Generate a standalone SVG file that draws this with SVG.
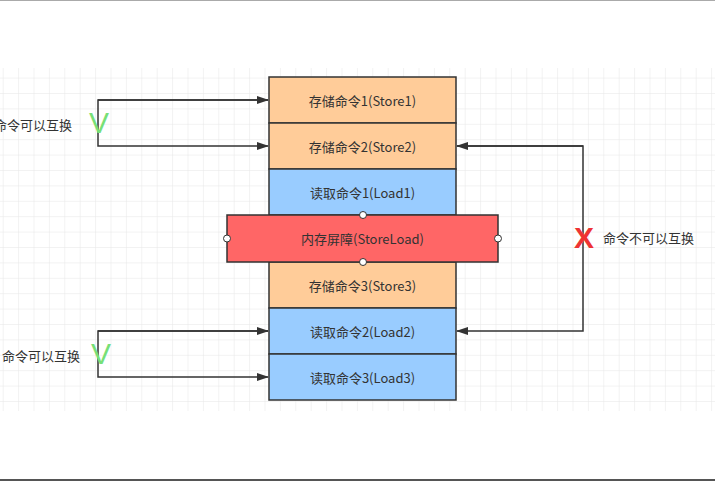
<svg xmlns="http://www.w3.org/2000/svg" width="715" height="481" viewBox="0 0 715 481">
<defs>
<pattern id="grid" x="2.7" y="0.6" width="15.4" height="15.4" patternUnits="userSpaceOnUse">
<path d="M0 0V15.4M0 0H15.4" fill="none" stroke="#e6e6e6" stroke-width="1"/>
</pattern>
<marker id="arr" viewBox="0 0 12 10" refX="11" refY="5" markerWidth="12" markerHeight="10" markerUnits="userSpaceOnUse" orient="auto">
<path d="M0 1L12 5L0 9Z" fill="#333"/>
</marker>
<style>
.box{stroke:#333;stroke-width:1.5}
.st{fill:#FFCC99}
.ld{fill:#99CCFF}
.bar{fill:#FF6666}
.t{font-family:"Noto Sans CJK SC","Noto Sans",sans-serif;font-size:13px;fill:#333;text-anchor:middle;dominant-baseline:central}
.lbl{font-family:"Noto Sans CJK SC","Noto Sans",sans-serif;font-size:13px;fill:#333;dominant-baseline:central}
.c{fill:none;stroke:#333;stroke-width:1.5}
.pt{fill:#fff;stroke:#333;stroke-width:1}
.ok{font-family:"Liberation Sans",sans-serif;font-size:30px;fill:#77e077;text-anchor:middle;dominant-baseline:central}
.no{font-family:"Liberation Sans",sans-serif;font-size:30px;font-weight:bold;fill:#ee3333;text-anchor:middle;dominant-baseline:central}
</style>
</defs>
<rect width="715" height="481" fill="#fff"/>
<rect x="0" y="68" width="715" height="343" fill="url(#grid)"/>
<line x1="0" y1="0.5" x2="715" y2="0.5" stroke="#aaa" stroke-width="1"/>
<rect x="0" y="479" width="715" height="2" fill="#555"/>

<g id="store1"><rect class="box st" x="269" y="77" width="187" height="46"/><text class="t" x="362.5" y="100">存储命令1(Store1)</text></g>
<g id="store2"><rect class="box st" x="269" y="123" width="187" height="46"/><text class="t" x="362.5" y="146">存储命令2(Store2)</text></g>
<g id="load1"><rect class="box ld" x="269" y="169" width="187" height="46"/><text class="t" x="362.5" y="192">读取命令1(Load1)</text></g>
<g id="store3"><rect class="box st" x="269" y="262" width="187" height="46"/><text class="t" x="362.5" y="285">存储命令3(Store3)</text></g>
<g id="load2"><rect class="box ld" x="269" y="308" width="187" height="46"/><text class="t" x="362.5" y="331">读取命令2(Load2)</text></g>
<g id="load3"><rect class="box ld" x="269" y="354" width="187" height="46"/><text class="t" x="362.5" y="377">读取命令3(Load3)</text></g>
<g id="barrier"><rect class="box bar" x="227" y="215" width="271" height="47"/><text class="t" x="362.5" y="238.5">内存屏障(StoreLoad)</text>
<circle class="pt" cx="363" cy="215" r="3.5"/><circle class="pt" cx="363" cy="262" r="3.5"/><circle class="pt" cx="227" cy="238.5" r="3.5"/><circle class="pt" cx="498" cy="238.5" r="3.5"/></g>

<g id="connectors">
<path class="c" d="M268 100H98V146H268" marker-end="url(#arr)"/>
<path class="c" d="M98 100H268" marker-end="url(#arr)"/>
<path class="c" d="M268 331H98V377H268" marker-end="url(#arr)"/>
<path class="c" d="M98 331H268" marker-end="url(#arr)"/>
<path class="c" d="M457 146H583V331H457" marker-end="url(#arr)"/>
<path class="c" d="M583 146H457" marker-end="url(#arr)"/>
</g>

<g id="labels">
<text class="ok" x="99" y="122">V</text>
<text class="ok" x="101" y="353">V</text>
<text class="no" x="584" y="237">X</text>
<text class="lbl" x="72" y="124" text-anchor="end">命令可以互换</text>
<text class="lbl" x="2" y="355">命令可以互换</text>
<text class="lbl" x="603" y="237">命令不可以互换</text>
</g>
</svg>
